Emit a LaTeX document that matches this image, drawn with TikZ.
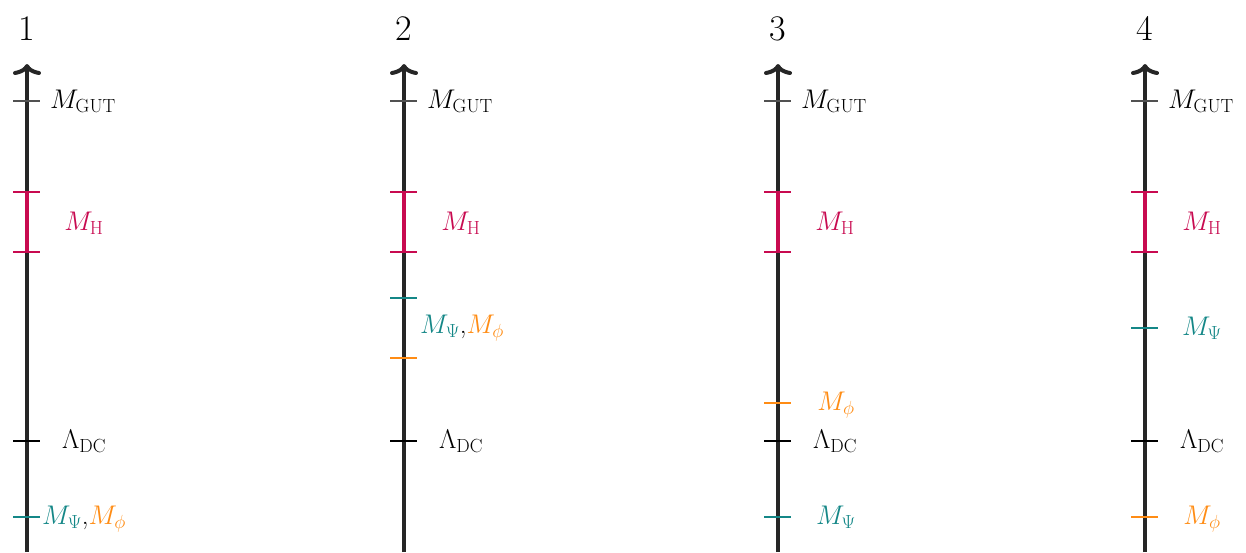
\documentclass[tikz,border=0pt]{standalone}
\usepackage{fix-cm}
\usetikzlibrary{arrows.meta}
\DeclareMathSizes{27}{27}{19}{13.5}
\definecolor{axisgray}{RGB}{38,38,38}
\definecolor{hred}{RGB}{200,10,80}
\definecolor{psiteal}{RGB}{20,135,135}
\definecolor{phiorange}{RGB}{255,140,20}
\tikzset{
  axisline/.style={axisgray, line width=4pt, -{Computer Modern Rightarrow[length=11pt,width=28pt,line width=4pt]}},
  tickmark/.style={line width=1.2pt},
  hband/.style={hred, line width=4.5pt},
  lab/.style={anchor=base, inner sep=0pt, font=\fontsize{27}{32}\selectfont},
  numlab/.style={anchor=base, inner sep=0pt, font=\fontsize{36}{40}\selectfont}
}
\begin{document}
\begin{tikzpicture}[x=1pt,y=-1pt]
\useasboundingbox (0,0) rectangle (1246,552);
% common elements of the four panels
\foreach \i/\X in {1/27,2/404,3/778,4/1145}{
  \coordinate (bot\i) at (\X,552);
  \coordinate (top\i) at (\X,64);
  \draw[axisline] (bot\i) -- (top\i);
  \node[numlab] (num\i) at (\X,40) {\i};
  % GUT
  \coordinate (gutl\i) at (\X-14,101);
  \coordinate (gutr\i) at (\X+13,101);
  \draw[tickmark, axisgray!80] (gutl\i) -- (gutr\i);
  \node[lab] (gut\i) at (\X+56,108) {$M_{\mathrm{GUT}}$};
  % H band
  \coordinate (hta\i) at (\X,192);
  \coordinate (hba\i) at (\X,252);
  \draw[hband] (hta\i) -- (hba\i);
  \coordinate (htl\i) at (\X-14,192);
  \coordinate (htr\i) at (\X+13,192);
  \coordinate (hbl\i) at (\X-14,252);
  \coordinate (hbr\i) at (\X+13,252);
  \draw[tickmark, hred] (htl\i) -- (htr\i);
  \draw[tickmark, hred] (hbl\i) -- (hbr\i);
  \node[lab, text=hred] (mh\i) at (\X+57,230) {$M_{\mathrm{H}}$};
  % Lambda DC
  \coordinate (dcl\i) at (\X-14,441);
  \coordinate (dcr\i) at (\X+13,441);
  \draw[tickmark, black] (dcl\i) -- (dcr\i);
  \node[lab] (dc\i) at (\X+57,448) {$\Lambda_{\mathrm{DC}}$};
}
% panel 1
\coordinate (p1l) at (13,517);
\coordinate (p1r) at (40,517);
\draw[tickmark, psiteal] (p1l) -- (p1r);
\node[lab] (pp1) at (84,524) {$\color{psiteal}M_{\Psi}$,$\color{phiorange}M_{\phi}$};
% panel 2
\coordinate (p2l) at (390,298);
\coordinate (p2r) at (417,298);
\draw[tickmark, psiteal] (p2l) -- (p2r);
\coordinate (f2l) at (390,358);
\coordinate (f2r) at (417,358);
\draw[tickmark, phiorange] (f2l) -- (f2r);
\node[lab] (pp2) at (462,333) {$\color{psiteal}M_{\Psi}$,$\color{phiorange}M_{\phi}$};
% panel 3
\coordinate (f3l) at (764,403);
\coordinate (f3r) at (791,403);
\draw[tickmark, phiorange] (f3l) -- (f3r);
\node[lab, text=phiorange] (phi3) at (836,410) {$M_{\phi}$};
\coordinate (p3l) at (764,517);
\coordinate (p3r) at (791,517);
\draw[tickmark, psiteal] (p3l) -- (p3r);
\node[lab, text=psiteal] (psi3) at (836,524) {$M_{\Psi}$};
% panel 4
\coordinate (p4l) at (1131,328);
\coordinate (p4r) at (1158,328);
\draw[tickmark, psiteal] (p4l) -- (p4r);
\node[lab, text=psiteal] (psi4) at (1202,335) {$M_{\Psi}$};
\coordinate (f4l) at (1131,517);
\coordinate (f4r) at (1158,517);
\draw[tickmark, phiorange] (f4l) -- (f4r);
\node[lab, text=phiorange] (phi4) at (1202,524) {$M_{\phi}$};
\end{tikzpicture}
\end{document}
